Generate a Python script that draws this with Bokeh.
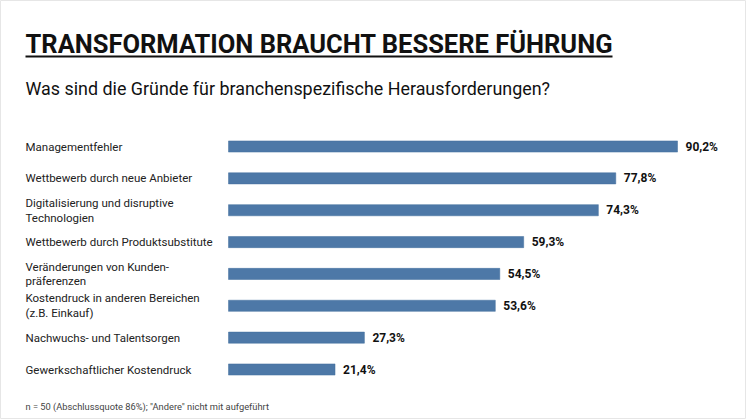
from bokeh.plotting import figure
from bokeh.models import ColumnDataSource, Range1d
from bokeh.core.properties import value
from bokeh.embed import file_html
from bokeh.resources import INLINE

categories = [
    "Managementfehler",
    "Wettbewerb durch neue Anbieter",
    "Digitalisierung und disruptive\nTechnologien",
    "Wettbewerb durch Produktsubstitute",
    "Veränderungen von Kunden-\npräferenzen",
    "Kostendruck in anderen Bereichen\n(z.B. Einkauf)",
    "Nachwuchs- und Talentsorgen",
    "Gewerkschaftlicher Kostendruck",
]
values = [90.2, 77.8, 74.3, 59.3, 54.5, 53.6, 27.3, 21.4]
value_labels = ["90,2%", "77,8%", "74,3%", "59,3%", "54,5%", "53,6%", "27,3%", "21,4%"]

title = "TRANSFORMATION BRAUCHT BESSERE FÜHRUNG"
subtitle = "Was sind die Gründe für branchenspezifische Herausforderungen?"
footnote = 'n = 50 (Abschlussquote 86%); "Andere" nicht mit aufgeführt'

W, H = 746, 419
PX_PER_UNIT_X = 449 / 90.2
PX_PER_UNIT_Y = 223 / 7
X0 = -228 / PX_PER_UNIT_X
X1 = X0 + W / PX_PER_UNIT_X
Y_TOP = -146 / PX_PER_UNIT_Y
Y_BOT = Y_TOP + H / PX_PER_UNIT_Y

def dx(sx):
    return X0 + sx / W * (X1 - X0)

def dy(sy):
    return Y_TOP + sy / H * (Y_BOT - Y_TOP)

p = figure(width=W, height=H, output_backend="svg", toolbar_location=None,
           x_range=Range1d(X0, X1), y_range=Range1d(Y_BOT, Y_TOP),
           min_border=0, outline_line_color="#e6e6e6", outline_line_width=1)
p.axis.visible = False
p.grid.visible = False
p.background_fill_color = "white"
p.border_fill_color = "white"

idx = list(range(len(categories)))
src = ColumnDataSource(dict(y=idx, v=values, cat=categories, lab=value_labels,
                            lx=[dx(25)] * len(idx)))

p.hbar(y="y", right="v", left=0, height=0.35, source=src,
       fill_color="#4d78a7", line_color="#436e9c", line_width=0.5)

p.text(x="lx", y="y", text="cat", source=src, text_font=value("Roboto"),
       text_font_size="11.5px", text_color="#222222", text_baseline="middle",
       text_align="left", text_line_height=1.05)

p.text(x="v", y="y", text="lab", source=src, x_offset=8, text_font=value("Roboto"),
       text_font_size="12px", text_font_style="bold", text_color="#111111",
       text_baseline="middle", text_align="left")

# headings
p.text(x=[dx(25)], y=[dy(43)], text=[title], text_font=value("Roboto"),
       text_font_size="25.5px", text_font_style="bold", text_color="#111111",
       text_baseline="middle", text_align="left")
p.quad(left=[dx(25)], right=[dx(612)], top=[dy(55)], bottom=[dy(57)],
       fill_color="#111111", line_color=None)
p.text(x=[dx(25)], y=[dy(88)], text=[subtitle], text_font=value("Roboto"),
       text_font_size="17.9px", text_color="#111111",
       text_baseline="middle", text_align="left")
p.text(x=[dx(25)], y=[dy(406)], text=[footnote], text_font=value("Roboto"),
       text_font_size="9.3px", text_color="#444444",
       text_baseline="middle", text_align="left")

open("out.html", "w").write(file_html(p, INLINE))
